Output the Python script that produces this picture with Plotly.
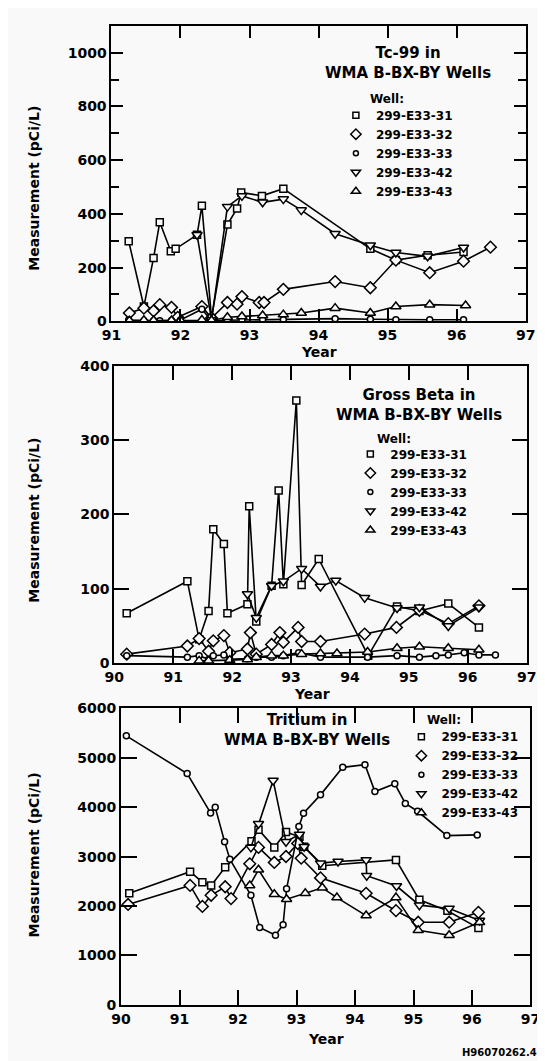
import plotly.graph_objects as go

W, H = 545, 1061
BG = "#f9f9f9"
FONT = "DejaVu Sans"

wells = ["299-E33-31", "299-E33-32", "299-E33-33", "299-E33-42", "299-E33-43"]
symbols = ["square", "diamond", "circle", "triangle-down", "triangle-up"]
msizes = [7, 9, 6, 9, 9]

# ---------------- Tc-99 ----------------
tc_x_31 = [91.25, 91.47, 91.61, 91.70, 91.86, 91.93, 92.24, 92.31, 92.45, 92.68, 92.82, 92.88, 93.18, 93.49, 94.75, 95.12, 95.58, 96.10]
tc_y_31 = [298, 55, 236, 369, 261, 270, 322, 430, 12, 360, 420, 480, 467, 494, 270, 228, 246, 258]
tc_x_32 = [91.26, 91.47, 91.61, 91.70, 91.87, 91.96, 92.31, 92.45, 92.68, 92.82, 92.89, 93.14, 93.21, 93.49, 94.24, 94.75, 95.12, 95.61, 96.10, 96.49]
tc_y_32 = [31, 49, 39, 62, 52, 15, 55, 12, 70, 64, 92, 70, 70, 119, 148, 125, 228, 181, 224, 276]
tc_x_33 = [91.25, 91.47, 91.61, 91.70, 91.87, 92.00, 92.31, 92.45, 92.68, 92.89, 93.19, 93.49, 94.24, 94.75, 95.12, 95.61, 96.10]
tc_y_33 = [5, 2, 2, 2, 3, 5, 45, 2, 4, 5, 6, 6, 10, 8, 6, 6, 6]
tc_x_42 = [92.24, 92.45, 92.68, 92.89, 93.19, 93.49, 93.75, 94.24, 94.75, 95.12, 95.58, 96.10]
tc_y_42 = [322, 5, 427, 467, 443, 455, 414, 326, 283, 256, 242, 275]
tc_x_43 = [91.26, 91.47, 91.61, 91.87, 92.00, 92.31, 92.45, 92.68, 92.89, 93.19, 93.49, 93.75, 94.24, 94.75, 95.12, 95.61, 96.13]
tc_y_43 = [2, 4, 3, 3, 3, 5, 3, 15, 18, 22, 25, 31, 49, 31, 55, 62, 59]

# ---------------- Gross Beta ----------------
gb_x_31 = [90.21, 91.24, 91.44, 91.60, 91.68, 91.86, 91.92, 92.26, 92.29, 92.41, 92.67, 92.79, 92.87, 93.09, 93.18, 93.47, 94.31, 94.80, 95.18, 95.67, 96.19]
gb_y_31 = [67, 110, 32, 70, 180, 160, 67, 79, 211, 56, 104, 232, 106, 353, 105, 140, 10, 76, 70, 80, 48]
gb_x_32 = [90.21, 91.24, 91.44, 91.60, 91.68, 91.86, 91.96, 92.26, 92.31, 92.41, 92.67, 92.81, 92.87, 93.12, 93.18, 93.50, 94.25, 94.79, 95.18, 95.67, 96.19]
gb_y_32 = [12, 23, 33, 16, 30, 37, 14, 19, 41, 12, 25, 41, 28, 48, 29, 29, 39, 48, 71, 53, 77]
gb_x_33 = [90.21, 91.24, 91.44, 91.60, 91.68, 91.86, 91.96, 92.26, 92.41, 92.67, 92.87, 93.13, 93.50, 94.30, 94.80, 95.18, 95.46, 95.67, 95.94, 96.19, 96.47]
gb_y_33 = [10, 8, 10, 5, 10, 11, 5, 6, 8, 8, 10, 14, 8, 8, 10, 8, 10, 11, 14, 11, 11]
gb_x_42 = [92.26, 92.41, 92.67, 92.87, 93.18, 93.50, 93.76, 94.25, 94.80, 95.18, 95.67, 96.19]
gb_y_42 = [93, 61, 104, 110, 127, 103, 111, 88, 74, 75, 50, 75]
gb_x_43 = [91.44, 91.60, 91.96, 92.26, 92.41, 92.67, 92.87, 93.18, 93.50, 93.78, 94.30, 94.80, 95.18, 95.67, 96.19]
gb_y_43 = [3, 3, 4, 5, 8, 10, 10, 12, 13, 13, 15, 20, 22, 20, 18]

# ---------------- Tritium ----------------
tr_x_31 = [90.14, 91.18, 91.39, 91.54, 91.78, 92.23, 92.35, 92.62, 92.82, 93.05, 93.13, 93.44, 94.70, 95.10, 95.58, 96.11]
tr_y_31 = [2257, 2696, 2483, 2417, 2783, 3313, 3546, 3187, 3500, 3400, 3201, 2815, 2934, 2125, 1906, 1554]
tr_x_32 = [90.12, 91.18, 91.39, 91.54, 91.78, 91.88, 92.20, 92.35, 92.62, 92.82, 93.02, 93.08, 93.41, 94.19, 94.70, 95.08, 95.61, 96.11]
tr_y_32 = [2032, 2417, 1992, 2218, 2390, 2151, 2855, 3187, 2882, 3002, 3267, 2968, 2570, 2257, 1906, 1673, 1673, 1873]
tr_x_33 = [90.09, 91.13, 91.53, 91.61, 91.77, 91.86, 92.22, 92.37, 92.64, 92.77, 92.83, 93.04, 93.12, 93.41, 93.79, 94.17, 94.34, 94.68, 94.86, 95.07, 95.57, 96.09]
tr_y_33 = [5445, 4681, 3884, 3997, 3300, 2948, 2218, 1567, 1408, 1620, 2350, 3612, 3878, 4250, 4807, 4860, 4316, 4475, 4077, 3918, 3426, 3440]
tr_x_42 = [92.22, 92.35, 92.60, 92.82, 93.05, 93.13, 93.41, 93.71, 94.19, 94.20, 94.71, 95.10, 95.61, 96.13]
tr_y_42 = [3187, 3665, 4542, 3300, 3450, 3200, 2868, 2902, 2934, 2615, 2404, 2018, 1952, 1707]
tr_x_43 = [92.20, 92.35, 92.62, 92.83, 93.15, 93.44, 93.69, 94.19, 94.70, 95.08, 95.61, 96.13]
tr_y_43 = [2417, 2735, 2237, 2138, 2257, 2370, 2171, 1807, 2171, 1508, 1408, 1673]

panels = [
    ("x", "y", "legend", [(tc_x_31, tc_y_31), (tc_x_32, tc_y_32), (tc_x_33, tc_y_33), (tc_x_42, tc_y_42), (tc_x_43, tc_y_43)]),
    ("x2", "y2", "legend2", [(gb_x_31, gb_y_31), (gb_x_32, gb_y_32), (gb_x_33, gb_y_33), (gb_x_42, gb_y_42), (gb_x_43, gb_y_43)]),
    ("x3", "y3", "legend3", [(tr_x_31, tr_y_31), (tr_x_32, tr_y_32), (tr_x_33, tr_y_33), (tr_x_42, tr_y_42), (tr_x_43, tr_y_43)]),
]

fig = go.Figure()
for xa, ya, leg, series in panels:
    for i, (xs, ys) in enumerate(series):
        fig.add_trace(go.Scatter(
            x=xs, y=ys, xaxis=xa, yaxis=ya, mode="lines+markers",
            line=dict(color="black", width=1.6),
            marker=dict(symbol=symbols[i], size=msizes[i], color=BG,
                        line=dict(color="black", width=1.5)),
            showlegend=False, name=wells[i]))
    for i in range(5):
        fig.add_trace(go.Scatter(
            x=[None], y=[None], xaxis=xa, yaxis=ya, mode="markers",
            marker=dict(symbol=symbols[i], size=msizes[i] - 1, color=BG,
                        line=dict(color="black", width=1.5)),
            name=wells[i], legend=leg, showlegend=True))


def px(v):
    return v / W


def py(v):
    return 1 - v / H


tickfont = dict(family=FONT, size=14, color="black", weight="bold")


def xax(dom, rng, anchor, ticklen):
    return dict(domain=dom, range=rng, anchor=anchor, dtick=1, tick0=0,
                ticks="inside", ticklen=ticklen, tickwidth=1.5, tickcolor="black",
                showline=True, linewidth=2, linecolor="black", mirror="allticks",
                showgrid=False, zeroline=False, tickfont=tickfont)


def yax(dom, rng, anchor, dtick, ticklen, minor=None):
    d = dict(domain=dom, range=rng, anchor=anchor, dtick=dtick, tick0=0,
             ticks="inside", ticklen=ticklen, tickwidth=1.5, tickcolor="black",
             showline=True, linewidth=2, linecolor="black", mirror="allticks",
             showgrid=False, zeroline=False, tickfont=tickfont)
    if minor:
        d["minor"] = dict(dtick=minor, ticks="inside", ticklen=8, tickwidth=1.5,
                          tickcolor="black", showgrid=False)
    return d


legfont = dict(family=FONT, size=12, color="black", weight="bold")


def legend(xpx, ypx):
    return dict(x=px(xpx), y=py(ypx), xanchor="left", yanchor="top",
                bgcolor="rgba(0,0,0,0)", font=legfont, tracegroupgap=0,
                itemwidth=30, borderwidth=0)


annots = []


def text(x, y, t, size=15, xanchor="center", yanchor="middle", angle=0, align="center"):
    annots.append(dict(x=px(x), y=py(y), xref="paper", yref="paper", text=t,
                       showarrow=False, xanchor=xanchor, yanchor=yanchor,
                       textangle=angle, align=align,
                       font=dict(family=FONT, size=size, color="black", weight="bold")))


text(405, 48, "Tc-99 in<br>WMA B-BX-BY Wells", 15)
text(416, 395, "Gross Beta in<br>WMA B-BX-BY Wells", 15)
text(300, 725, "Tritium in<br>WMA B-BX-BY Wells", 15)
text(363, 84, "Well:", 12, xanchor="left")
text(371, 429, "Well:", 12, xanchor="left")
text(423, 715, "Well:", 12, xanchor="left")
text(312, 341, "Year", 14)
text(305, 688, "Year", 14)
text(320, 1039, "Year", 14)
text(17, 175, "Measurement (pCi/L)", 14, angle=-90)
text(17, 512, "Measurement (pCi/L)", 14, angle=-90)
text(17, 852, "Measurement (pCi/L)", 14, angle=-90)
text(541, 1052, "H96070262.4", 10, xanchor="right")

fig.update_layout(
    width=W, height=H, margin=dict(l=0, r=0, t=0, b=0),
    paper_bgcolor=BG, plot_bgcolor=BG,
    xaxis=xax([px(97), px(527)], [91, 97], "y", 12),
    yaxis=yax([py(310), py(10)], [0, 1100], "x", 200, 12, minor=100),
    xaxis2=xax([px(100), px(528)], [90, 97], "y2", 14),
    yaxis2=yax([py(657), py(355)], [0, 400], "x2", 100, 15),
    xaxis3=xax([px(107), px(532)], [90, 97], "y3", 15),
    yaxis3=yax([py(1004), py(703)], [0, 6000], "x3", 1000, 16),
    legend=legend(330, 86),
    legend2=legend(345, 430),
    legend3=legend(398, 717),
    annotations=annots,
)

fig.write_html("out.html")
